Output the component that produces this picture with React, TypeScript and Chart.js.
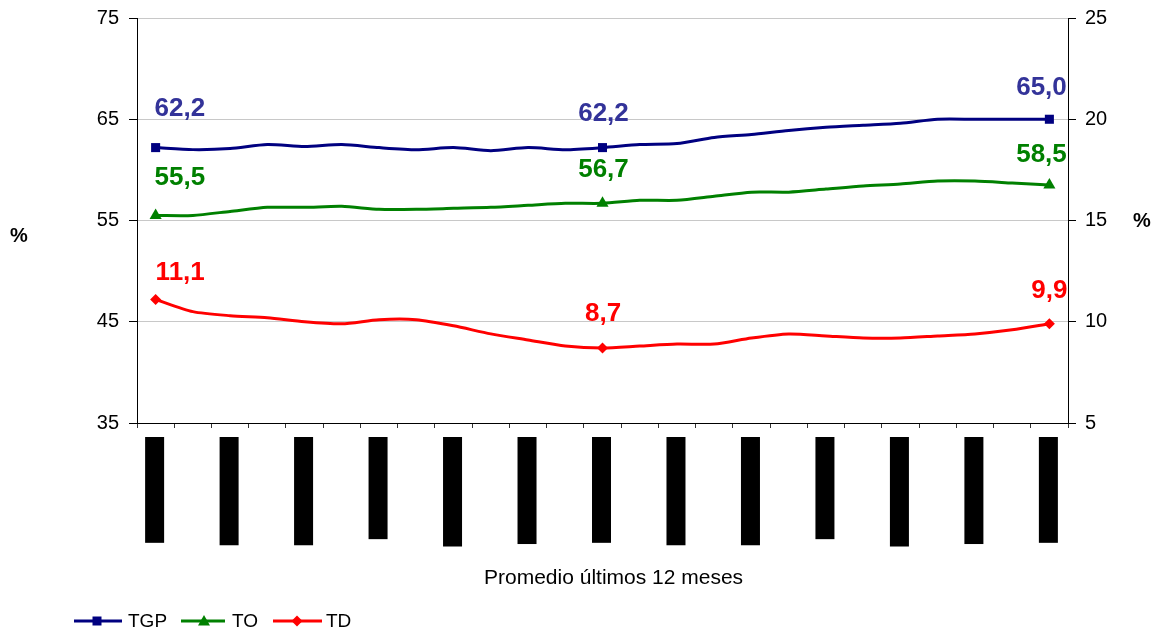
import React, { useEffect, useRef } from 'react';
import { Chart, registerables } from 'chart.js';

Chart.register(...registerables);

const FONT = '"Liberation Sans", Arial, Helvetica, sans-serif';

const categories = [
  'Ene 07 - Dic 07', 'Feb 07 - Ene 08', 'Mar 07 - Feb 08', 'Abr 07 - Mar 08', 'May 07 - Abr 08',
  'Jun 07 - May 08', 'Jul 07 - Jun 08', 'Ago 07 - Jul 08', 'Sep 07 - Ago 08', 'Oct 07 - Sep 08',
  'Nov 07 - Oct 08', 'Dic 07 - Nov 08', 'Ene 08 - Dic 08', 'Feb 08 - Ene 09', 'Mar 08 - Feb 09',
  'Abr 08 - Mar 09', 'May 08 - Abr 09', 'Jun 08 - May 09', 'Jul 08 - Jun 09', 'Ago 08 - Jul 09',
  'Sep 08 - Ago 09', 'Oct 08 - Sep 09', 'Nov 08 - Oct 09', 'Dic 08 - Nov 09', 'Ene 09 - Dic 09',
];

const tgp = [62.2, 62.0, 62.1, 62.5, 62.3, 62.5, 62.2, 62.0, 62.2, 61.9, 62.2, 62.0, 62.2,
  62.5, 62.6, 63.2, 63.5, 63.9, 64.2, 64.4, 64.6, 65.0, 65.0, 65.0, 65.0];
const to = [55.5, 55.5, 55.9, 56.3, 56.3, 56.4, 56.1, 56.1, 56.2, 56.3, 56.5, 56.7, 56.7,
  57.0, 57.0, 57.4, 57.8, 57.8, 58.1, 58.4, 58.6, 58.9, 58.9, 58.7, 58.5];
const td = [11.1, 10.5, 10.3, 10.2, 10.0, 9.9, 10.1, 10.1, 9.8, 9.4, 9.1, 8.8, 8.7,
  8.8, 8.9, 8.9, 9.2, 9.4, 9.3, 9.2, 9.2, 9.3, 9.4, 9.6, 9.9];

const markerIndices = [0, 12, 24];

const seriesNames = ['TGP', 'TO', 'TD'];
const seriesColors = ['#000080', '#008000', '#FF0000'];
const labelColors = ['#333399', '#008000', '#FF0000'];

const leftMin = 35, leftMax = 75, leftStep = 10;
const rightMin = 5, rightMax = 25, rightStep = 5;

const xTitle = 'Promedio últimos 12 meses';
const unitLabel = '%';

const fmt = (v: number) => v.toFixed(1).replace('.', ',');

// label placement: [dataset, index, align, dx, dy]
const valueLabelSpecs: Array<[number, number, CanvasTextAlign, number, number]> = [
  [0, 0, 'left', -1, -31.8], [1, 0, 'left', -1, -30.6], [2, 0, 'left', 0, -19.2],
  [0, 12, 'center', 1, -26.6], [1, 12, 'center', 1, -26], [2, 12, 'center', 0.6, -26.8],
  [0, 24, 'right', 17.4, -24.5], [1, 24, 'right', 17.4, -22.8], [2, 24, 'right', 18, -26],
];

function drawMarker(ctx: CanvasRenderingContext2D, style: string, x: number, y: number, color: string) {
  ctx.fillStyle = color;
  ctx.beginPath();
  if (style === 'rect') {
    ctx.rect(x - 4.5, y - 4.5, 9, 9);
  } else if (style === 'triangle') {
    ctx.moveTo(x, y - 6);
    ctx.lineTo(x + 6, y + 4.5);
    ctx.lineTo(x - 6, y + 4.5);
    ctx.closePath();
  } else {
    ctx.moveTo(x, y - 5.5);
    ctx.lineTo(x + 5.5, y);
    ctx.lineTo(x, y + 5.5);
    ctx.lineTo(x - 5.5, y);
    ctx.closePath();
  }
  ctx.fill();
}

const pointStyles = ['rect', 'triangle', 'rectRot'];
const pointRadii = [6.4, 7, 5.5];

const textPlugin = {
  id: 'textPlugin',
  afterDatasetsDraw(chart: any) {
    const ctx: CanvasRenderingContext2D = chart.ctx;
    ctx.save();
    ctx.font = `bold 26px ${FONT}`;
    ctx.textBaseline = 'alphabetic';
    valueLabelSpecs.forEach(([ds, idx, align, dx, dy]) => {
      const el = chart.getDatasetMeta(ds).data[idx];
      const v = chart.data.datasets[ds].data[idx] as number;
      ctx.fillStyle = labelColors[ds];
      ctx.textAlign = align;
      ctx.fillText(fmt(v), el.x + dx, el.y + dy);
    });
    ctx.restore();
  },
  afterDraw(chart: any) {
    const ctx: CanvasRenderingContext2D = chart.ctx;
    ctx.save();
    ctx.fillStyle = '#000';
    ctx.font = `bold 20px ${FONT}`;
    ctx.textAlign = 'left';
    ctx.textBaseline = 'alphabetic';
    ctx.fillText(unitLabel, 10, 242);
    ctx.fillText(unitLabel, 1133, 227);
    ctx.font = `21px ${FONT}`;
    ctx.fillText(xTitle, 484, 584);
    const legendY = 621;
    const legendItems = [
      { x0: 74, x1: 122, mx: 97, tx: 128 },
      { x0: 181, x1: 225, mx: 204, tx: 232 },
      { x0: 273, x1: 322, mx: 297, tx: 326 },
    ];
    legendItems.forEach((it, i) => {
      ctx.strokeStyle = seriesColors[i];
      ctx.lineWidth = 3;
      ctx.beginPath();
      ctx.moveTo(it.x0, legendY);
      ctx.lineTo(it.x1, legendY);
      ctx.stroke();
      drawMarker(ctx, pointStyles[i] === 'rectRot' ? 'diamond' : pointStyles[i], it.mx, legendY, seriesColors[i]);
      ctx.fillStyle = '#000';
      ctx.font = `19px ${FONT}`;
      ctx.textBaseline = 'middle';
      ctx.fillText(seriesNames[i], it.tx, legendY + 1);
    });
    ctx.restore();
  },
};

const fitVertical = (width: number) => (s: any) => {
  s.width = width;
  s.paddingTop = 0;
  s.paddingBottom = 0;
};

export default function App() {
  const canvasRef = useRef<HTMLCanvasElement | null>(null);

  useEffect(() => {
    if (!canvasRef.current) return;
    const seriesData = [tgp, to, td];
    const chart = new Chart(canvasRef.current, {
      type: 'line',
      data: {
        labels: categories,
        datasets: seriesData.map((d, i) => ({
          label: seriesNames[i],
          data: d,
          yAxisID: i === 2 ? 'y1' : 'y',
          borderColor: seriesColors[i],
          backgroundColor: seriesColors[i],
          borderWidth: 3,
          tension: 0.25,
          pointStyle: pointStyles[i] as any,
          pointRadius: (c: any) => (markerIndices.includes(c.dataIndex) ? pointRadii[i] : 0),
          pointHoverRadius: 0,
          pointBorderWidth: 0,
          clip: false as any,
        })),
      },
      options: {
        responsive: false,
        animation: false,
        layout: { padding: { top: 18, left: 0, right: 0, bottom: 0 } },
        plugins: {
          legend: { display: false },
          tooltip: { enabled: false },
        },
        scales: {
          x: {
            offset: true,
            afterFit: (s: any) => { s.height = 211; s.paddingLeft = 0; s.paddingRight = 0; },
            grid: {
              offset: true,
              drawOnChartArea: false,
              drawTicks: true,
              tickLength: 5,
              tickColor: '#333',
            },
            border: { color: '#000', width: 1 },
            ticks: {
              autoSkip: false,
              minRotation: 90,
              maxRotation: 90,
              padding: 9,
              labelOffset: -7.6,
              color: '#000',
              font: { family: FONT, size: 11 },
              callback: (_v: any, i: number) => (i % 2 === 0 ? categories[i] : ''),
              showLabelBackdrop: (c: any) => c.index % 2 === 0,
              backdropColor: '#000',
              backdropPadding: { top: 2.9, bottom: 2.9, left: 30, right: 0 },
            } as any,
          },
          y: {
            position: 'left',
            min: leftMin,
            max: leftMax,
            afterFit: fitVertical(137),
            grid: { color: '#c8c8c8', tickColor: '#000', tickLength: 8, lineWidth: 1 },
            border: { color: '#000', width: 1 },
            ticks: { stepSize: leftStep, color: '#000', padding: 10, font: { family: FONT, size: 20 } },
          },
          y1: {
            position: 'right',
            min: rightMin,
            max: rightMax,
            afterFit: fitVertical(93),
            grid: { drawOnChartArea: false, tickColor: '#000', tickLength: 8 },
            border: { color: '#000', width: 1 },
            ticks: { stepSize: rightStep, color: '#000', padding: 9, font: { family: FONT, size: 20 } },
          },
        },
      },
      plugins: [textPlugin],
    });
    return () => chart.destroy();
  }, []);

  return (
    <div style={{ position: 'fixed', left: 0, top: 0, width: 1161, height: 634, background: '#fff' }}>
      <canvas ref={canvasRef} width={1161} height={634} style={{ display: 'block' }} />
    </div>
  );
}
